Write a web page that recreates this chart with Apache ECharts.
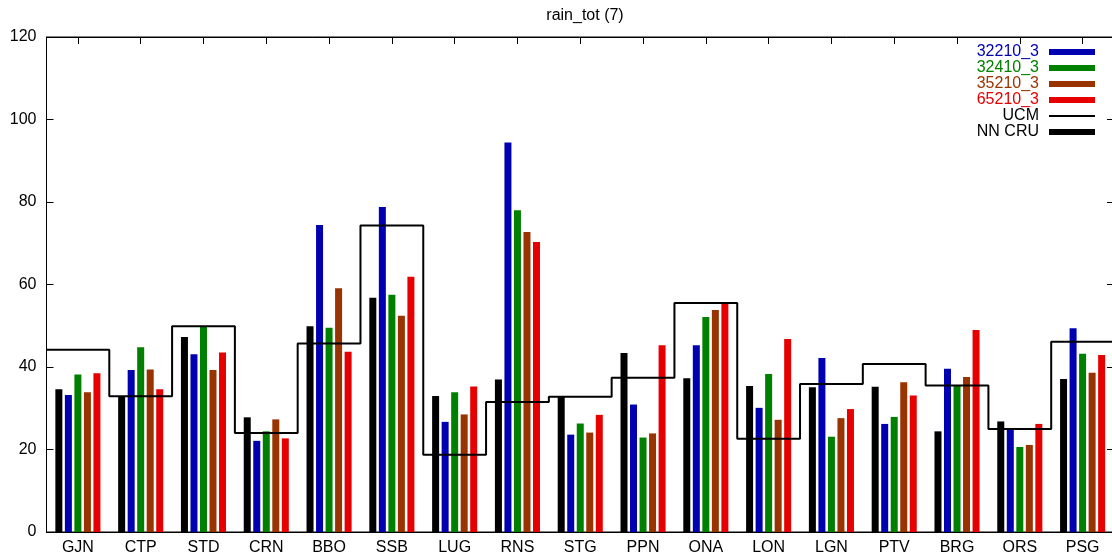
<!doctype html>
<html lang="en">
<head>
    <meta charset="UTF-8">
    <script src="https://cdn.jsdelivr.net/npm/echarts@6/dist/echarts.min.js"></script>
    <title>rain_tot (7)</title>
    <style>
        html, body { margin: 0; padding: 0; background: #fff; }
    </style>
</head>
<body>
<div id="main" style="width: 1112px;height:560px;"></div>
<script>
    // stations
    var stations = ['GJN', 'CTP', 'STD', 'CRN', 'BBO', 'SSB', 'LUG', 'RNS', 'STG', 'PPN', 'ONA', 'LON', 'LGN', 'PTV', 'BRG', 'ORS', 'PSG'];
    // observed (NN CRU) and model runs
    var nnCru   = [34.6, 32.8, 47.3, 27.8, 49.9, 56.8, 33.0, 37.0, 32.8, 43.4, 37.3, 35.4, 35.1, 35.2, 24.4, 26.8, 37.1];
    var r32210  = [33.2, 39.3, 43.1, 22.1, 74.4, 78.8, 26.7, 94.4, 23.6, 30.9, 45.3, 30.1, 42.2, 26.2, 39.6, 25.1, 49.4];
    var r32410  = [38.2, 44.8, 49.8, 24.4, 49.5, 57.5, 33.9, 78.0, 26.3, 22.9, 52.1, 38.3, 23.1, 27.9, 35.6, 20.6, 43.2];
    var r35210  = [33.9, 39.4, 39.3, 27.3, 59.1, 52.4, 28.5, 72.7, 24.1, 23.9, 53.8, 27.2, 27.6, 36.3, 37.6, 21.1, 38.6];
    var r65210  = [38.5, 34.6, 43.5, 22.7, 43.7, 61.9, 35.3, 70.3, 28.4, 45.3, 55.6, 46.8, 29.8, 33.1, 49.0, 26.2, 42.9];
    var ucm     = [44.2, 32.9, 49.9, 24.0, 45.7, 74.3, 18.7, 31.5, 32.8, 37.4, 55.5, 22.6, 35.9, 40.7, 35.5, 25.0, 46.1];

    var yTicks = [0, 20, 40, 60, 80, 100, 120];

    var cBlue = '#0000b0', cGreen = '#008000', cBrown = '#993300', cRed = '#e60000';

    // UCM steps span each station's whole band: points at band left edges
    var ucmSteps = [];
    for (var i = 0; i < ucm.length; i++) {
        ucmSteps.push([i - 0.5, ucm[i]]);
    }
    ucmSteps.push([ucm.length - 0.5, ucm[ucm.length - 1]]);

    var font = 'Liberation Sans, Arial, sans-serif';
    var myChart = echarts.init(document.getElementById('main'));

    function bar(name, data, color) {
        return {
            name: name,
            type: 'bar',
            xAxisIndex: 0,
            yAxisIndex: 0,
            data: data,
            barWidth: 7,
            barGap: '36%',
            itemStyle: { color: color },
            z: 2
        };
    }

    var option = {
        animation: false,
        textStyle: { fontFamily: font },
        title: {
            text: 'rain_tot (7)',
            left: 580,
            top: 3,
            textAlign: 'center',
            textStyle: { fontSize: 16, fontWeight: 'normal', color: '#000', fontFamily: font }
        },
        legend: {
            orient: 'vertical',
            right: 17,
            top: 44,
            padding: 0,
            itemGap: 0,
            itemWidth: 46,
            itemHeight: 6,
            align: 'right',
            itemStyle: { borderWidth: 0 },
            textStyle: { fontSize: 16, lineHeight: 16, padding: [0, 5, 0, 0], fontFamily: font },
            data: [
                { name: '32210_3', icon: 'rect', textStyle: { color: cBlue } },
                { name: '32410_3', icon: 'rect', textStyle: { color: cGreen } },
                { name: '35210_3', icon: 'rect', textStyle: { color: cBrown } },
                { name: '65210_3', icon: 'rect', textStyle: { color: cRed } },
                { name: 'UCM', icon: 'path://M0,0H46V2H0Z', textStyle: { color: '#000' } },
                { name: 'NN CRU', icon: 'rect', textStyle: { color: '#000' } }
            ]
        },
        grid: {
            left: 46.5,
            right: -2,
            top: 37,
            bottom: 28,
            outerBoundsMode: 'none',
            show: true,
            borderColor: '#000',
            borderWidth: 1
        },
        xAxis: [
            {
                type: 'category',
                data: stations,
                position: 'bottom',
                axisLine: { onZero: false, lineStyle: { color: '#000', width: 1 } },
                axisTick: { show: true, interval: 0, inside: true, length: 7, alignWithLabel: true, lineStyle: { color: '#000' } },
                axisLabel: { fontSize: 16, color: '#000', margin: 8, interval: 0, fontFamily: font }
            },
            {
                type: 'category',
                data: stations,
                position: 'top',
                axisLine: { show: true, onZero: false, lineStyle: { color: '#000', width: 1 } },
                axisTick: { show: true, interval: 0, inside: true, length: 7, alignWithLabel: true, lineStyle: { color: '#000' } },
                axisLabel: { show: false, interval: 0 }
            },
            {
                type: 'value',
                min: -0.5,
                max: stations.length - 0.5,
                show: false
            }
        ],
        yAxis: [
            {
                type: 'value',
                position: 'left',
                min: yTicks[0],
                max: yTicks[yTicks.length - 1],
                interval: 20,
                axisLine: { show: true, onZero: false, lineStyle: { color: '#000' } },
                axisTick: { show: true, inside: true, length: 7, lineStyle: { color: '#000' } },
                axisLabel: { fontSize: 16, color: '#000', margin: 10, fontFamily: font },
                splitLine: { show: false }
            },
            {
                type: 'value',
                position: 'right',
                min: yTicks[0],
                max: yTicks[yTicks.length - 1],
                interval: 20,
                axisLine: { show: true, onZero: false, lineStyle: { color: '#000' } },
                axisTick: { show: true, inside: true, length: 7, lineStyle: { color: '#000' } },
                axisLabel: { show: false },
                splitLine: { show: false }
            }
        ],
        series: [
            bar('NN CRU', nnCru, '#000'),
            bar('32210_3', r32210, cBlue),
            bar('32410_3', r32410, cGreen),
            bar('35210_3', r35210, cBrown),
            bar('65210_3', r65210, cRed),
            {
                name: 'UCM',
                type: 'line',
                xAxisIndex: 2,
                yAxisIndex: 0,
                step: 'end',
                data: ucmSteps,
                showSymbol: false,
                symbol: 'none',
                color: '#000',
                lineStyle: { color: '#000', width: 2 },
                z: 5
            }
        ]
    };

    myChart.setOption(option);
</script>
</body>
</html>
